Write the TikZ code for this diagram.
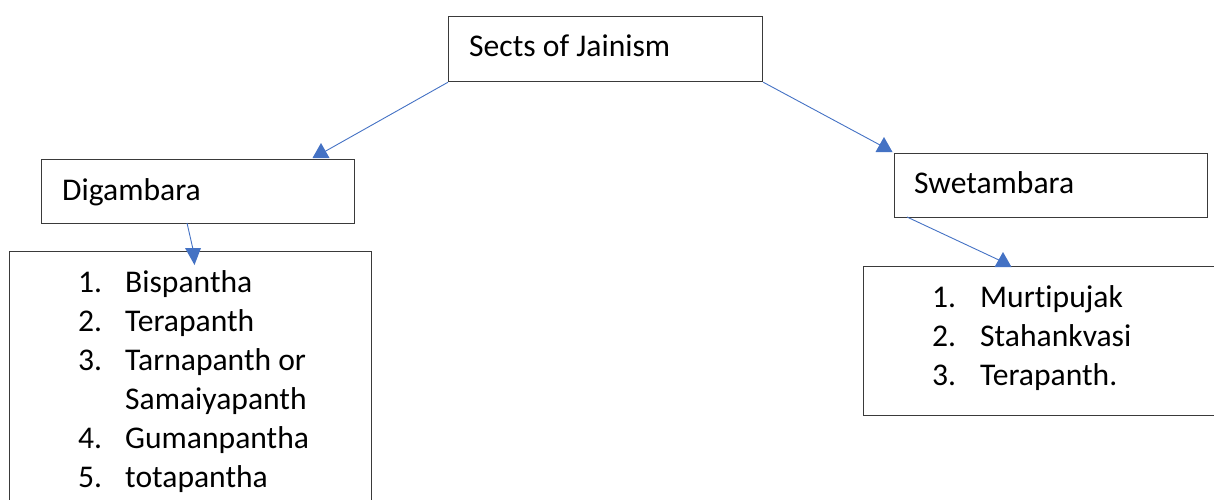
\documentclass[tikz,border=0pt]{standalone}
\usepackage{fontspec}
\setmainfont{Carlito}[Ligatures={NoCommon,NoContextual},Contextuals={NoAlternate}]
\definecolor{linkblue}{HTML}{4472C4}
\definecolor{boxline}{HTML}{3A3A3A}
\begin{document}
\begin{tikzpicture}[x=1pt,y=-1pt,
  box/.style={draw=boxline, line width=1.2pt, rectangle, inner sep=0pt, anchor=north west},
  lbl/.style={anchor=base west, inner sep=0pt, font=\fontsize{31.6}{39}\selectfont},
  link/.style={draw=linkblue, line width=0.9pt},
  tipup/.pic={\fill[linkblue] (-8.5,0) -- (8.5,0) -- (0,-15) -- cycle;},
  tipdown/.pic={\fill[linkblue] (-8,0) -- (8,0) -- (1.5,17) -- cycle;}]
\useasboundingbox (0,0) rectangle (1214,500);
\clip (0,0) rectangle (1214,500);

% boxes
\node[box, minimum width=314pt, minimum height=65pt] (sects) at (448,16) {};
\node[box, minimum width=313pt, minimum height=64pt] (dig) at (41,159) {};
\node[box, minimum width=313pt, minimum height=64pt] (swet) at (894,153) {};
\node[box, minimum width=362pt, minimum height=270pt] (diglist) at (9,251) {};
\node[box, minimum width=400pt, minimum height=149pt] (swetlist) at (863,266) {};

% headings
\node[lbl] (sectsT) at (469,57) {Sects of Jainism};
\node[lbl] (digT) at (62,200) {Digambara};
\node[lbl] (swetT) at (914,193) {Swetambara};

% Digambara sub-sects
\foreach \k/\n/\t/\y in {1/1./Bispantha/292, 2/2./Terapanth/331,
    3/3./Tarnapanth or/370, 4//Samaiyapanth/409,
    5/4./Gumanpantha/448, 6/5./totapantha/487} {
  \node[lbl] (dn\k) at (78,\y) {\n};
  \node[lbl] (dt\k) at (125,\y) {\t};
}

% Swetambara sub-sects
\foreach \k/\n/\t/\y in {1/1./Murtipujak/307, 2/2./Stahankvasi/346, 3/3./Terapanth./385} {
  \node[lbl] (sn\k) at (932,\y) {\n};
  \node[lbl] (st\k) at (980,\y) {\t};
}

% connector ends
\coordinate (e1) at (324,152);
\coordinate (e2) at (880,145);
\coordinate (e3) at (195,258);
\coordinate (e4) at (1001,261);
\coordinate (d3) at (187,223);
\coordinate (s4) at (907,217);

\draw[link] (sects.south west) -- (e1);
\draw[link] (sects.south east) -- (e2);
\draw[link] (d3) -- (e3);
\draw[link] (s4) -- (e4);

% arrow heads
\pic at (321,158) {tipup};
\pic at (884,152) {tipup};
\pic at (193,248) {tipdown};
\pic at (1003,267) {tipup};
\end{tikzpicture}
\end{document}
